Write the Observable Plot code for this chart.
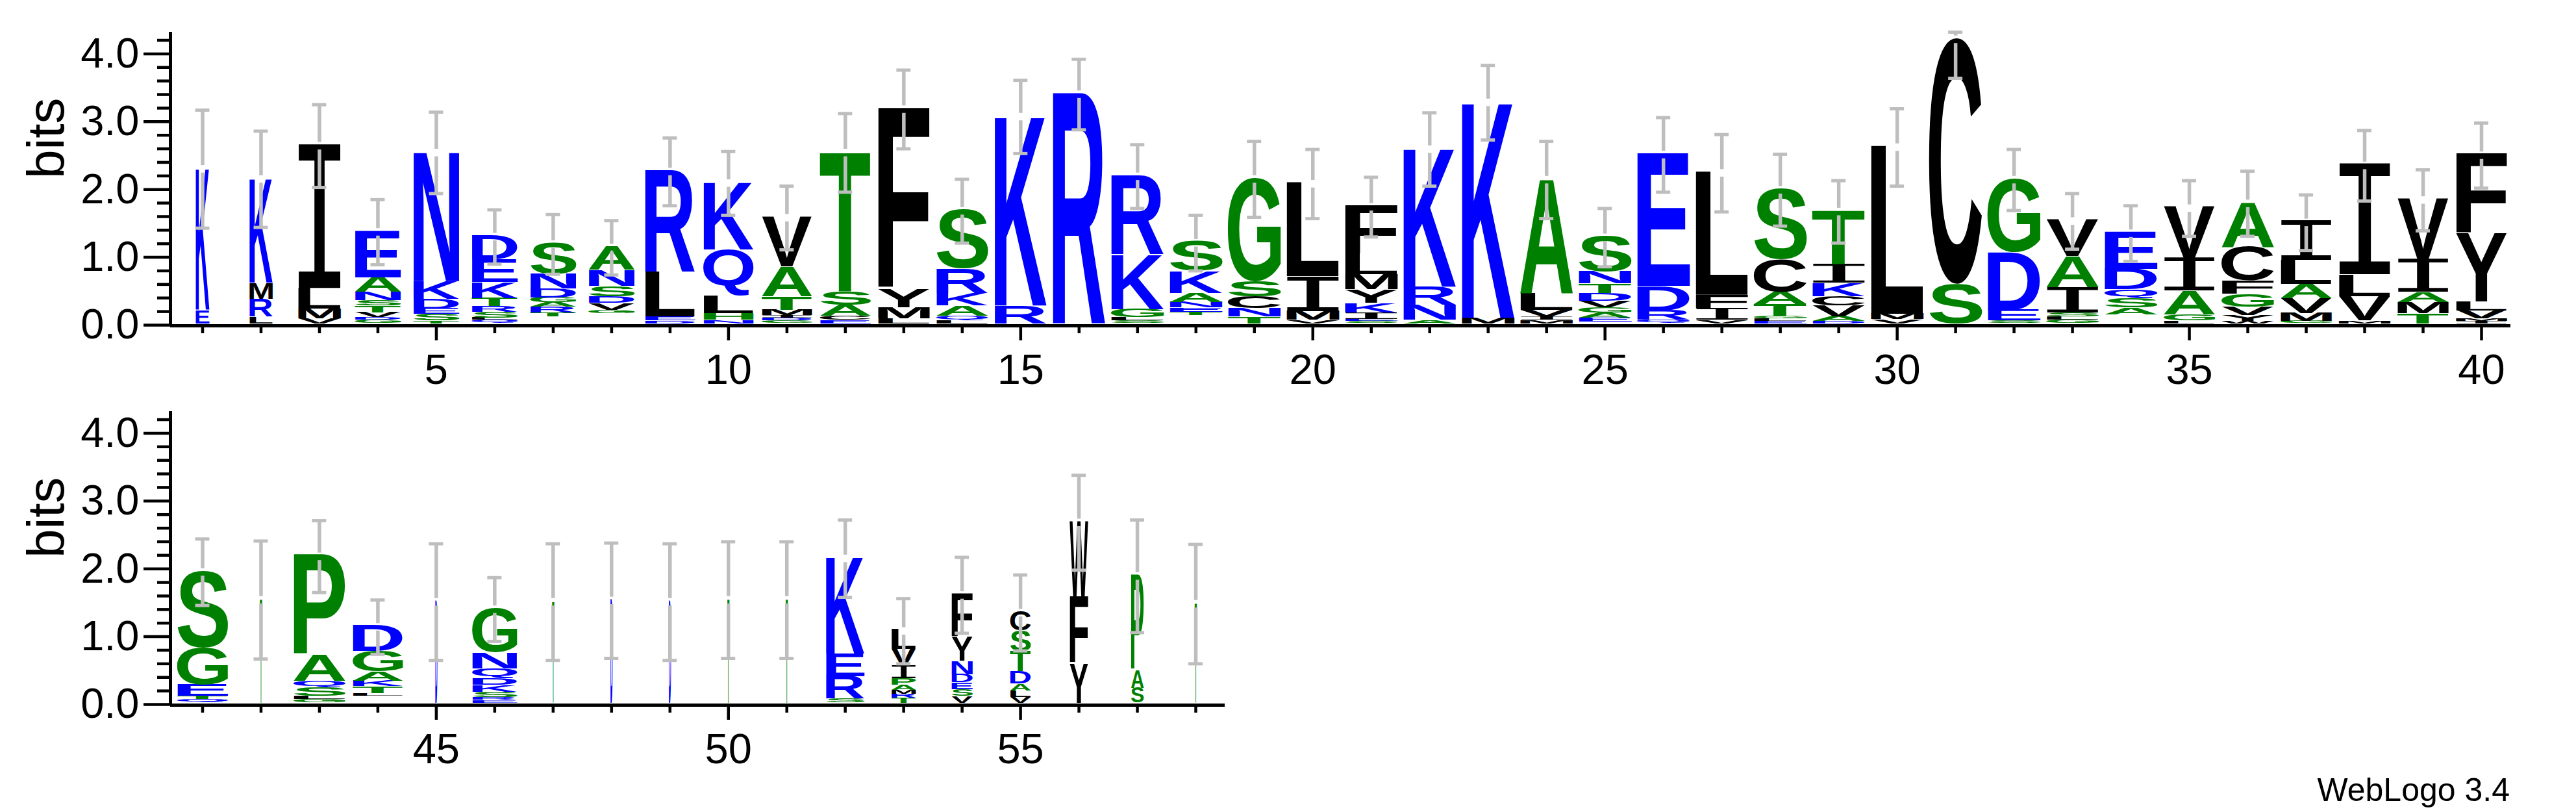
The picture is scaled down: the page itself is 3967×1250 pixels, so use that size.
<!DOCTYPE html>
<html><head><meta charset="utf-8">
<script src="https://cdn.jsdelivr.net/npm/d3@7"></script>
<script src="https://cdn.jsdelivr.net/npm/@observablehq/plot@0.6"></script>
<style>
html,body{margin:0;padding:0;background:#fff;}
#wrap{position:relative;width:3967px;height:1250px;background:#fff;overflow:hidden;}
</style></head>
<body><div id="wrap"></div>
<script>
// ---------------- data (bottom -> top within each stack; "_" = empty space) ----------------
const positions1 = [1,2,3,4,5,6,7,8,9,10,11,12,13,14,15,16,17,18,19,20,21,22,23,24,25,26,27,28,29,30,31,32,33,34,35,36,37,38,39,40];
const letters1 = ["EK","LRMK","VMLI","GDVTSNAE","TSEDKN","QLSRTKED","_TRAGDNS","_GVDSNA","DELR","NHLQK",
  "GDIMTAV","ECAST","LMYF","LQAKRS","RK","R","SLGKR","_TENAKS","TNCSG","VMIL",
  "SEIKYMLF","ANRK","MK","MIVLA","_EAGVDTNS","QRDE","VIFL","ELGTACS","DAVCKIT","VML",
  "SC","SEDG","GLSIAV","_ASQDE","LGAIV","WYVGFCA","GMVALI","MVLI","TMAIV","IMVLYF"];
const heights1 = [
  [0.2,2.1],[0.1,0.26,0.24,1.55],[0.07,0.15,0.3,2.12],[0.05,0.04,0.07,0.1,0.08,0.12,0.22,0.69],
  [0.04,0.1,0.08,0.14,0.26,1.92],[0.05,0.03,0.09,0.08,0.12,0.24,0.33,0.36],[0.1,0.06,0.08,0.07,0.07,0.13,0.22,0.46],
  [0.15,0.05,0.1,0.1,0.15,0.24,0.35],[0.04,0.06,0.66,1.5],[0.05,0.1,0.26,0.68,1.0],
  [0.04,0.04,0.04,0.08,0.2,0.44,0.74],[0.05,0.06,0.16,0.2,2.07],[0.07,0.16,0.27,2.68],[0.05,0.06,0.15,0.19,0.36,0.87],
  [0.26,2.81],[3.4],[0.04,0.05,0.12,0.81,1.17],[0.12,0.05,0.06,0.08,0.14,0.32,0.44],[0.1,0.12,0.17,0.23,1.53],
  [0.05,0.13,0.51,1.39],[0.03,0.03,0.1,0.14,0.2,0.22,0.3,0.72],[0.05,0.22,0.27,2.05],[0.08,3.2],[0.05,0.05,0.1,0.25,1.69],
  [0.02,0.065,0.07,0.08,0.1,0.11,0.14,0.18,0.525],[0.05,0.14,0.36,1.96],[0.05,0.17,0.2,1.82],[0.03,0.04,0.04,0.17,0.18,0.48,1.05],
  [0.03,0.07,0.16,0.14,0.2,0.27,0.8],[0.06,0.08,2.48],[0.58,3.63],[0.04,0.16,0.85,1.09],[0.05,0.05,0.06,0.37,0.46,0.54],
  [0.13,0.1,0.14,0.13,0.3,0.55],[0.04,0.09,0.35,0.48,0.76],[0.03,0.09,0.12,0.19,0.2,0.5,0.66],[0.03,0.12,0.22,0.21,0.35,0.58],
  [0.04,0.36,0.32,1.63],[0.15,0.16,0.15,0.48,0.9],[0.03,0.04,0.12,0.13,1.0,1.18]];
const widths1 = [0.26,0.44,0.81,0.87,0.87,0.87,0.87,0.87,0.95,0.95,0.95,0.96,0.98,0.98,0.99,
  1,1,1,1,1,1,1,1,1,1,1,1,1,1,1,1,1,0.99,1,0.97,0.99,0.97,0.98,0.97,0.97];
const errors1 = [0.87,0.71,0.61,0.48,0.6,0.4,0.44,0.4,0.5,0.47,0.47,0.58,0.58,0.47,0.54,0.52,0.47,0.41,0.56,0.51,
  0.44,0.54,0.55,0.57,0.43,0.55,0.57,0.53,0.46,0.57,0.57,0.45,0.41,0.41,0.41,0.48,0.41,0.52,0.45,0.48];
const xTickLabels1 = [5,10,15,20,25,30,35,40];

const positions2 = [41,42,43,44,45,46,47,48,49,50,51,52,53,54,55,56,57,58];
const letters2 = ["QTEGS","T","GLSQAP","_LTKAGD","D","ERSKDQNG","T","D","D","T","T","SREK","TRMAPIVL","VSEDNYF","VLADTSC","YFW","SAP","T"];
const heights2 = [[0.05,0.05,0.17,0.54,1.14],[1.54],[0.05,0.05,0.12,0.1,0.38,1.48],[0.1,0.04,0.1,0.08,0.14,0.3,0.38],[1.51],
  [0.04,0.04,0.08,0.1,0.1,0.14,0.24,0.66],[1.51],[1.53],[1.51],[1.54],[1.54],[0.06,0.33,0.33,1.43],
  [0.07,0.06,0.06,0.07,0.1,0.18,0.25,0.29],[0.1,0.1,0.1,0.12,0.2,0.35,0.64],[0.08,0.1,0.1,0.18,0.3,0.3,0.29],
  [0.58,0.98,1.12],[0.22,0.26,1.41],[1.48]];
const widths2 = [0.96,0.04,0.98,0.95,0.04,0.85,0.04,0.04,0.04,0.04,0.04,0.73,0.46,0.4,0.39,0.35,0.24,0.04];
const errors2 = [0.49,0.87,0.53,0.4,0.86,0.47,0.86,0.85,0.86,0.86,0.86,0.57,0.48,0.56,0.56,0.7,0.83,0.88];
const xTickLabels2 = [45,50,55];

const yMajorTicks = [0,1,2,3,4];
const yMinorTicks = [0.2,0.4,0.6,0.8,1.2,1.4,1.6,1.8,2.2,2.4,2.6,2.8,3.2,3.4,3.6,3.8,4.2];
const yLabel = "bits";
const creditText = "WebLogo 3.4";

// ---------------- styling ----------------
const BLUE = "#0000ff", GREEN = "#008000", BLACK = "#000000", GRAY = "#bebebe";
const hydrophilic = "RKDENQ", neutral = "SGHTAP";
const colorOf = c => hydrophilic.includes(c) ? BLUE : neutral.includes(c) ? GREEN : BLACK;
const YMAX = 4.32;
const FONT = "'Liberation Sans', Arial, Helvetica, sans-serif";
const glyphFont = ch => ch === "I" ? "DejaVu Sans Mono" : "Liberation Sans";
const glyphWeight = ch => ch === "I" ? "normal" : "bold";
const COLW = 0.455; // half letter width in position units
const CAP = 0.122;
const GAP = 0.055;  // small break in the error bar around the stack top
const W = 3967, H = 1250, ROW2_TOP = 595;

const ctx = document.createElement("canvas").getContext("2d");
function inkBox(ch) {
  ctx.font = `${glyphWeight(ch)} 100px "${glyphFont(ch)}"`;
  const m = ctx.measureText(ch);
  return {x0: -m.actualBoundingBoxLeft, x1: m.actualBoundingBoxRight, y0: -m.actualBoundingBoxAscent, y1: m.actualBoundingBoxDescent};
}

function buildGlyphs(positions, letters, heights, widths) {
  const out = [];
  positions.forEach((p, i) => {
    let base = 0;
    [...letters[i]].forEach((ch, j) => {
      const h = heights[i][j];
      if (ch !== "_") out.push({pos: p, letter: ch, y1: base, y2: base + h, w: widths[i], color: colorOf(ch)});
      base += h;
    });
  });
  return out;
}
function buildErrors(positions, heights, errors) {
  return positions.map((p, i) => {
    const top = d3.sum(heights[i]);
    return {pos: p, top, lo: top - errors[i], hi: Math.min(top + errors[i], YMAX)};
  });
}

function logo(o) {
  const glyphs = buildGlyphs(o.positions, o.letters, o.heights, o.widths);
  const errs = buildErrors(o.positions, o.heights, o.errors);
  const plot = Plot.plot({
    width: o.width, height: o.height,
    marginLeft: 262, marginRight: o.marginRight, marginTop: o.marginTop, marginBottom: o.marginBottom,
    x: {domain: o.xDomain},
    y: {domain: [0, YMAX]},
    color: {type: "identity"},
    style: {fontFamily: FONT, background: "transparent", overflow: "visible", maxWidth: "none"},
    marks: [
      Plot.text(glyphs, {x: "pos", y: d => (d.y1 + d.y2) / 2, text: "letter", fill: "color",
        fontSize: 100, fontWeight: "bold", fontFamily: "Liberation Sans"}),
      Plot.ruleX(errs, {x: "pos", y1: "lo", y2: d => d.top - GAP, stroke: GRAY, strokeWidth: 5.5}),
      Plot.ruleX(errs, {x: "pos", y1: d => Math.min(d.top + GAP, d.hi), y2: "hi", stroke: GRAY, strokeWidth: 5.5}),
      Plot.ruleY(errs, {y: "lo", x1: d => d.pos - CAP, x2: d => d.pos + CAP, stroke: GRAY, strokeWidth: 5}),
      Plot.ruleY(errs, {y: "hi", x1: d => d.pos - CAP, x2: d => d.pos + CAP, stroke: GRAY, strokeWidth: 5}),
      Plot.ruleY([0], {strokeWidth: 5, dy: 1}),
      Plot.ruleX([o.xDomain[0]], {y1: 0, y2: YMAX, strokeWidth: 5}),
      Plot.axisX({ticks: o.positions.filter(p => !o.xTicks.includes(p)), tickSize: 13, fill: "none", strokeWidth: 4.5, label: null}),
      Plot.axisX({ticks: o.xTicks, tickSize: 24, tickPadding: 20, fontSize: 65, tickFormat: d => String(d), strokeWidth: 4.5, label: null}),
      Plot.axisY({ticks: yMinorTicks, tickSize: 20, fill: "none", strokeWidth: 4.5, label: null}),
      Plot.axisY({ticks: yMajorTicks, tickSize: 41, tickPadding: 7, fontSize: 65, tickFormat: d => d.toFixed(1), strokeWidth: 4.5, label: null}),
      Plot.text([yLabel], {frameAnchor: "left", text: d => d, rotate: -90, dx: -190, fontSize: 80})
    ]
  });
  // stretch each glyph to fill its slot (slot computed through the plot's scales)
  const xs = plot.scale("x"), ys = plot.scale("y");
  const texts = plot.querySelectorAll('g[font-weight="bold"] text');
  texts.forEach((t, i) => {
    const d = glyphs[i];
    if (!d) return;
    const b = inkBox(d.letter);
    const left = xs.apply(d.pos - COLW * d.w), right = xs.apply(d.pos + COLW * d.w);
    const top = ys.apply(d.y2) - 3, bot = ys.apply(d.y1) - 3;
    const sx = (right - left) / (b.x1 - b.x0), sy = (bot - top) / (b.y1 - b.y0);
    t.setAttribute("x", 0); t.setAttribute("y", 0);
    t.setAttribute("dx", 0); t.setAttribute("dy", 0);
    t.setAttribute("text-anchor", "start");
    t.setAttribute("dominant-baseline", "alphabetic");
    t.setAttribute("font-size", 100);
    t.setAttribute("font-weight", glyphWeight(d.letter));
    t.setAttribute("font-family", glyphFont(d.letter));
    t.setAttribute("transform", `translate(${left},${top}) scale(${sx},${sy}) translate(${-b.x0},${-b.y0})`);
  });
  return plot;
}

const svg1 = logo({
  positions: positions1, letters: letters1, heights: heights1, widths: widths1, errors: errors1,
  xTicks: xTickLabels1, xDomain: [0.45, 40.5],
  width: W, height: 595, marginRight: 101, marginTop: 49, marginBottom: 95
});
const svg2 = logo({
  positions: positions2, letters: letters2, heights: heights2, widths: widths2, errors: errors2,
  xTicks: xTickLabels2, xDomain: [40.45, 58.5],
  width: 1906, height: 599, marginRight: 20, marginTop: 38, marginBottom: 110
});

// put both rows into one SVG so the whole picture shares one coordinate system
const NS = "http://www.w3.org/2000/svg";
svg1.setAttribute("height", H);
svg1.setAttribute("viewBox", `0 0 ${W} ${H}`);
const g2 = document.createElementNS(NS, "g");
g2.setAttribute("transform", `translate(0,${ROW2_TOP})`);
for (const a of ["fill", "font-family", "font-size", "text-anchor", "style"]) {
  if (svg2.hasAttribute(a)) g2.setAttribute(a, svg2.getAttribute(a));
}
while (svg2.firstChild) g2.appendChild(svg2.firstChild);
svg1.appendChild(g2);
const credit = document.createElementNS(NS, "text");
credit.setAttribute("x", 3865);
credit.setAttribute("y", 1233);
credit.setAttribute("text-anchor", "end");
credit.setAttribute("font-size", 50);
credit.setAttribute("font-family", FONT);
credit.setAttribute("fill", "#000");
credit.textContent = creditText;
svg1.appendChild(credit);
document.getElementById("wrap").append(svg1);
</script>
</body></html>
